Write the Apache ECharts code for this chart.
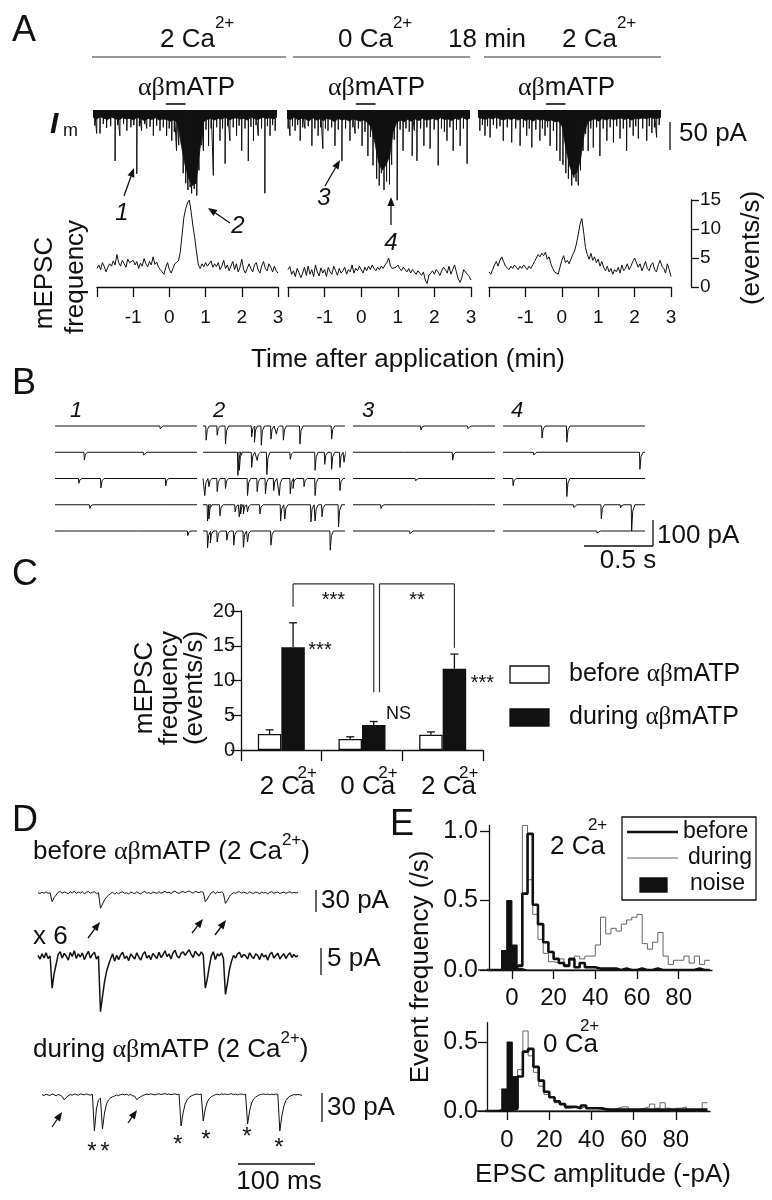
<!DOCTYPE html>
<html><head><meta charset="utf-8">
<script src="https://cdn.jsdelivr.net/npm/echarts@6/dist/echarts.min.js"></script>
<style>html,body{margin:0;padding:0;background:#fff}#c{width:772px;height:1200px}</style>
</head><body><div id="c"></div>
<script>
// ================= DATA =================
// Panel A: membrane current (Im) traces, time in min (-2..3), depth in pA
const envStepMin = 0.1;
const envelope1 = [10,13,9,12,14,10,12,15,11,13, 12,15,10,13,16,12,14,11,15,13, 14,17,15,20,60,95,120,132,128,70, 18,14,12,15,12,13,10,15,12,11, 13,12,15,10,13,14,10,12,11,13, 10];
const envelope2 = [12,14,10,15,12,13,17,11,15,13, 16,12,14,18,12,15,13,17,13,15, 17,15,19,28,55,90,105,96,80,36, 19,15,18,14,17,13,16,12,15,14, 12,15,11,14,13,16,12,14,10,14, 12];
const envelope3 = [10,12,14,11,13,10,13,15,12,14, 12,15,12,16,13,17,13,15,14,17, 15,18,17,26,65,96,114,108,86,40, 18,15,13,17,12,15,12,14,13,11, 14,12,15,12,13,11,13,10,12,12, 10];
const spikes1 = [[-1.95,25],[-1.90,39],[-1.81,39],[-1.72,22],[-1.63,29],[-1.52,26],[-1.40,88],[-1.33,24],[-1.27,43],[-1.17,22],[-1.08,34],[-0.97,28],[-0.89,24],[-0.81,111],[-0.74,26],[-0.68,34],[-0.60,22],[-0.54,30],[-0.45,27],[-0.36,43],[-0.27,25],[-0.18,34],[-0.09,28],[0.00,43],[0.07,30],[0.14,52],[0.21,36],[0.27,70],[0.33,60],[0.45,110],[0.52,128],[0.58,140],[0.64,135],[0.68,146],[0.75,138],[0.82,150],[0.88,105],[0.94,60],[1.00,70],[1.07,32],[1.14,61],[1.21,30],[1.27,114],[1.36,28],[1.45,52],[1.52,30],[1.59,93],[1.66,26],[1.72,52],[1.81,28],[1.90,43],[1.97,25],[2.04,70],[2.13,30],[2.22,88],[2.29,27],[2.36,52],[2.43,24],[2.49,43],[2.58,30],[2.67,146],[2.74,26],[2.81,43],[2.88,24],[2.95,34]];
const spikes2 = [[-1.97,30],[-1.92,43],[-1.85,26],[-1.78,34],[-1.71,24],[-1.64,52],[-1.57,28],[-1.51,30],[-1.42,26],[-1.32,61],[-1.24,30],[-1.15,43],[-1.08,28],[-1.02,66],[-0.95,30],[-0.88,34],[-0.78,28],[-0.69,61],[-0.60,32],[-0.50,88],[-0.40,30],[-0.28,52],[-0.20,28],[-0.14,39],[-0.05,30],[0.05,61],[0.13,36],[0.21,79],[0.28,45],[0.35,96],[0.45,120],[0.52,132],[0.58,110],[0.65,140],[0.72,125],[0.80,130],[0.86,95],[0.93,50],[1.01,159],[1.09,32],[1.17,70],[1.25,30],[1.34,36],[1.42,79],[1.48,34],[1.55,88],[1.65,30],[1.74,61],[1.82,28],[1.91,66],[2.02,32],[2.13,96],[2.22,30],[2.30,36],[2.37,52],[2.45,28],[2.54,70],[2.63,32],[2.73,61],[2.82,30],[2.92,93]];
const spikes3 = [[-1.95,34],[-1.88,24],[-1.81,43],[-1.74,26],[-1.67,46],[-1.58,24],[-1.49,30],[-1.40,26],[-1.31,52],[-1.20,28],[-1.08,55],[-0.97,30],[-0.85,61],[-0.76,28],[-0.67,43],[-0.60,30],[-0.53,64],[-0.42,32],[-0.31,52],[-0.24,30],[-0.17,43],[-0.10,28],[-0.03,61],[0.06,34],[0.15,70],[0.24,88],[0.32,95],[0.40,110],[0.47,120],[0.56,132],[0.62,118],[0.68,125],[0.74,132],[0.80,105],[0.87,70],[0.94,40],[1.01,70],[1.08,30],[1.15,64],[1.24,28],[1.33,79],[1.42,30],[1.52,52],[1.61,28],[1.70,55],[1.79,26],[1.88,48],[1.97,30],[2.06,70],[2.15,28],[2.24,43],[2.31,26],[2.38,48],[2.50,30],[2.61,52],[2.68,26],[2.75,38],[2.82,28],[2.88,46],[2.95,24]];

// Panel A: mEPSC frequency (events/s), sampled every 0.05 min from -2 to 3
const freqStepMin = 0.05;
const freq2CaFirst = [3.2,3.8,3.0,4.2,3.5,2.6,3.4,4.0,3.6,4.5, 3.8,5.6,4.2,3.6,4.6,4.0,3.4,4.8,4.2,3.9, 4.6,3.8,4.4,3.2,4.1,3.6,4.9,4.0,3.5,4.4, 3.8,5.2,3.9,4.3,3.4,3.0,2.6,2.2,3.4,4.2, 3.0,2.4,3.2,4.0,3.8,4.5,6.0,9.0,12.0,13.5, 14.5,15.0,13.0,10.5,8.5,6.0,3.8,3.2,4.0,3.5, 4.2,3.6,3.8,4.5,3.4,4.0,3.5,4.2,3.0,3.6, 4.6,3.2,3.8,2.8,3.6,4.4,3.0,4.0,2.6,3.4, 4.8,3.0,2.4,3.2,4.0,3.2,2.6,3.8,4.2,3.0, 2.4,3.6,4.4,3.2,2.8,4.0,3.4,2.6,3.6,2.8, 2.4];
const freq0Ca = [3.0,3.5,2.2,2.8,1.8,3.2,2.5,1.6,2.4,3.4, 2.0,3.6,2.2,3.0,1.8,3.8,2.6,1.9,3.3,2.4, 3.0,1.8,3.4,2.6,2.2,3.6,2.8,2.0,3.2,2.4, 2.8,3.4,2.2,3.0,2.6,3.8,2.4,3.2,2.8,3.6, 3.0,2.4,3.4,2.8,3.6,3.0,3.8,3.2,2.8,3.4, 3.0,3.6,3.2,3.8,4.2,5.0,3.6,3.2,3.0,3.4, 3.8,3.2,2.8,3.4,3.0,2.6,3.2,2.4,3.0,2.6, 2.2,2.8,2.4,2.0,2.6,1.2,0.6,2.0,2.4,2.8, 2.2,3.0,2.6,2.0,2.8,3.4,3.0,2.4,3.6,2.2, 3.0,3.8,2.6,1.4,0.8,1.6,3.0,3.2,2.2,1.8, 1.2];
const freq2CaSecond = [2.6,2.2,3.0,3.8,4.4,3.6,4.6,5.2,4.4,3.6, 3.4,3.0,3.6,3.2,3.8,3.4,3.0,3.6,3.2,3.8, 3.4,3.0,3.6,3.2,3.8,4.4,5.0,5.6,5.2,5.8, 5.4,6.0,4.8,5.2,4.0,3.2,2.6,2.4,2.2,3.4, 4.6,5.4,4.2,4.6,4.0,4.8,5.6,6.2,7.4,9.0, 10.8,11.8,9.5,6.8,5.6,4.8,5.8,4.6,5.2,4.2, 4.8,3.6,4.4,3.4,2.8,3.6,2.6,3.2,2.2,3.0, 2.6,3.4,2.4,3.8,2.8,3.2,4.0,3.0,3.6,4.4, 5.0,4.2,3.4,4.0,2.8,3.6,4.4,3.2,2.8,3.8, 4.2,3.0,2.6,3.8,4.6,3.6,3.2,2.4,4.0,3.0, 1.8];
const freqTickLabels = ['-1','0','1','2','3'];

// Panel B: sample sweeps (5 per epoch), events as [time s, amplitude pA]
const sweeps1 = [[[0.76,10]], [[0.21,30],[0.64,10]], [[0.17,18],[0.33,36],[0.80,28]], [[0.25,14],[0.78,6]], [[0.11,6],[0.59,6],[0.96,18]]];
const sweeps2 = [
 [[0.02,54],[0.10,35],[0.16,69],[0.35,42],[0.37,62],[0.42,73],[0.49,50],[0.53,31],[0.58,54],[0.70,69],[0.93,50]],
 [[0.25,88],[0.26,69],[0.35,58],[0.39,31],[0.46,85],[0.63,27],[0.81,69],[0.88,46],[0.93,65],[0.99,58],[1.02,38]],
 [[0.01,65],[0.04,31],[0.10,50],[0.16,38],[0.32,65],[0.39,50],[0.45,58],[0.51,46],[0.55,65],[0.63,58],[0.65,38],[0.73,31],[0.81,65],[0.99,46]],
 [[0.03,62],[0.04,54],[0.12,42],[0.23,27],[0.26,46],[0.27,35],[0.29,35],[0.32,27],[0.41,35],[0.56,62],[0.59,54],[0.78,65],[0.81,62],[0.86,46],[0.98,85]],
 [[0.03,65],[0.05,46],[0.10,42],[0.17,35],[0.22,54],[0.29,62],[0.32,42],[0.49,54],[0.92,73]]];
const sweeps3 = [[[0.49,15],[0.83,10]], [[0.34,6],[0.72,30]], [[0.45,8]], [[0.20,14],[0.85,5]], [[0.41,10]]];
const sweeps4 = [[[0.28,46],[0.46,62]], [[0.22,10],[0.99,65]], [[0.07,27],[0.46,69]], [[0.51,10],[0.71,54],[0.85,12],[0.93,100]], [[0.68,8]]];
const sweepLabels = ['1','2','3','4'];

// Panel C: mean mEPSC frequency (events/s)
const conditions = ['2 Ca', '0 Ca', '2 Ca'];
const beforeMean = [2.3, 1.6, 2.2];
const beforeErr = [0.6, 0.3, 0.4];
const duringMean = [14.8, 3.6, 11.7];
const duringErr = [3.5, 0.5, 2.1];

// Panel D: example traces, samples every 2.6 ms
const sampleMs = 2.6;
const traceBefore = [0.3,-0.4,0.6,-0.2,0.8,-0.3,0.2,-6.0,-3.2,-1.4, 0.5,1.0,-0.2,0.7,0.2,-0.6,0.9,0.1,1.2,-0.3, 0.6,0.0,0.8,-0.5,0.4,1.1,-0.2,0.5,0.9,-0.4, 0.2,-10.5,-7.6,-4.8,-2.8,-1.5,-0.4,0.6,-0.8,0.3, -0.5,0.4,0.9,-0.3,0.2,-0.7,0.6,0.1,-0.4,0.8, 0.0,-0.6,0.5,1.0,-0.2,0.3,-0.5,0.7,0.2,-0.3, 0.9,-0.1,0.4,1.2,0.1,0.6,-0.4,0.8,1.3,0.2, -0.2,0.7,1.0,0.3,0.9,1.4,0.5,-0.1,1.1,0.6, 0.2,1.0,0.4,-6.0,-4.2,-1.8,0.2,1.0,-0.5,0.6, 0.2,0.8,-0.3,-7.2,-5.0,-2.4,-0.8,0.3,-0.2,0.6, 0.9,-0.1,0.5,0.2,-0.4,0.8,0.1,-0.3,0.6,0.3, -0.5,0.7,0.0,0.4,-0.6,0.5,0.9,-0.2,0.3,0.7, -0.4,0.2,0.6,-0.3,0.4,0.8,-0.1,0.5,0.0,0.3];
const traceDuring = [0.5,-0.6,0.8,0.0,-0.4,1.0,0.3,-0.8,0.6,-0.2, -1.5,-4.8,-2.5,-0.8,0.4,-0.2,0.9,0.5,-0.3,1.1, 0.6,0.2,1.0,0.4,-0.2,0.7,-36.0,-14.0,-5.0,-3.0, -34.0,-18.0,-9.0,-5.0,-3.0,-1.8,-1.0,0.0,-0.5,0.4, 0.8,0.2,0.9,-0.3,0.5,-0.8,-1.2,-4.6,-3.0,-1.6, -0.6,0.3,0.9,0.4,1.2,0.6,0.1,0.8,1.3,0.5, 0.9,1.4,0.6,1.1,0.3,0.8,1.2,0.5,0.9,-31.0, -18.0,-9.0,-4.8,-2.4,-1.0,0.0,0.6,1.0,0.4,0.9, -26.0,-14.0,-7.0,-3.6,-1.8,-0.6,0.3,0.8,0.2,1.1, 0.6,1.0,0.4,0.8,1.3,0.5,0.9,0.2,0.7,1.0, 0.4,0.9,-29.0,-16.0,-8.0,-4.0,-2.0,-0.8,0.2,0.7, 1.0,0.5,0.9,0.3,0.8,0.4,1.1,0.6,-36.0,-21.0, -11.0,-5.6,-2.8,-1.2,-0.3,0.4,0.1,0.6,0.2,-0.4];

// Panel E: amplitude histograms (bins of 2.5 pA starting at -12.5), event frequency /s
const binStart = -12.5, binWidth = 2.5;
const hist2CaBefore = [0,0,0,0,0,0.01,0.03,0.55,0.98,0.47,0.33,0.2,0.13,0.08,0.05,0.03,0.08,0.02,0.05,0.02,0.02,0.01,0.01,0.01,0.01,0,0.01,0,0,0.01,0,0,0.01,0,0,0,0,0,0,0,0.01,0,0];
const hist2CaDuring = [0,0,0,0,0,0,0.04,1.04,0.65,0.4,0.22,0.12,0.06,0.05,0.08,0.04,0.07,0.1,0.08,0.1,0.1,0.18,0.38,0.26,0.3,0.28,0.33,0.36,0.38,0.4,0.19,0.15,0.2,0.27,0.1,0.04,0.07,0.07,0.1,0.05,0.1,0.04,0.07];
const hist2CaNoise = [0,0,0,0.14,0.5,0.18,0.01,0,0,0,0,0,0,0,0,0,0,0,0,0,0,0,0,0,0,0,0,0,0,0,0,0,0,0,0,0,0,0,0,0,0,0,0];
const hist0CaBefore = [0,0,0,0,0,0.01,0.02,0.25,0.43,0.45,0.32,0.22,0.14,0.1,0.07,0.05,0.03,0.03,0.02,0.04,0.02,0.02,0.02,0.01,0.01,0.01,0.01,0.01,0.01,0.01,0.01,0.01,0.01,0.01,0.01,0.01,0.01,0.01,0.01,0.01,0.01,0.01,0.01];
const hist0CaDuring = [0,0,0,0,0,0,0,0.3,0.58,0.4,0.28,0.18,0.12,0.1,0.06,0.05,0.02,0.03,0.02,0.03,0.02,0.02,0.01,0.02,0.01,0.02,0.03,0.03,0.01,0.01,0.02,0.03,0.05,0.02,0.06,0.02,0,0.02,0.03,0.01,0,0.01,0.06];
const hist0CaNoise = [0,0,0,0.01,0.16,0.5,0.25,0,0,0,0,0,0,0,0,0,0,0,0,0,0,0,0,0,0,0,0,0,0,0,0,0,0,0,0,0,0,0,0,0,0,0,0];
const ampTicks = [0, 20, 40, 60, 80];

// ================= BUILD =================
const INK = '#111';
const SANS = '"Liberation Sans", Arial, Helvetica, sans-serif';
const SERIF = '"Liberation Serif", "Times New Roman", serif';
const grids = [], xAxes = [], yAxes = [], series = [];
function addGrid(g, xa, ya) {
  grids.push(Object.assign({ outerBoundsMode: 'none', containLabel: false, show: false }, g));
  const gi = grids.length - 1;
  xAxes.push(Object.assign({ gridIndex: gi }, xa));
  yAxes.push(Object.assign({ gridIndex: gi }, ya));
  return gi;
}
const hid = (min, max) => ({ type: 'value', min, max, show: false, splitLine: { show: false } });
const axLine = { show: true, onZero: false, lineStyle: { color: INK, width: 1.3 } };
const lineS = (gi, data, extra) => Object.assign({ type: 'line', xAxisIndex: gi, yAxisIndex: gi, data, symbol: 'none', silent: true, animation: false, lineStyle: { width: 1, color: INK } }, extra || {});

// --- A traces
const traceGeo = [{ left: 93, width: 184 }, { left: 287, width: 183 }, { left: 478, width: 183 }];
[[envelope1, spikes1], [envelope2, spikes2], [envelope3, spikes3]].forEach(([env, sp], i) => {
  const gi = addGrid({ left: traceGeo[i].left, width: traceGeo[i].width, top: 110, height: 90 }, hid(-2, 3), hid(-158, 3));
  series.push(lineS(gi, env.map((v, k) => [-2 + k * envStepMin, -v]), { lineStyle: { width: 0.8, color: INK }, areaStyle: { color: INK, opacity: 1, origin: 'end' } }));
  const d = [];
  sp.forEach(([t, a]) => { d.push([t, -4], [t, -a], [t + 0.006, -4]); });
  series.push(lineS(gi, d, { lineStyle: { width: 1, color: INK } }));
});

// --- A frequency plots
const freqGeo = [{ left: 97, width: 181 }, { left: 288, width: 183 }, { left: 489, width: 182 }];
[freq2CaFirst, freq0Ca, freq2CaSecond].forEach((arr, i) => {
  const xa = { type: 'value', min: -2, max: 3, interval: 1, axisLine: axLine,
    axisTick: { show: true, inside: false, length: 10, lineStyle: { color: INK, width: 1.3 } },
    axisLabel: { show: true, color: INK, fontSize: 19, fontFamily: SANS, margin: 21,
      formatter: v => (freqTickLabels.indexOf(String(v)) >= 0 ? String(v) : '') },
    splitLine: { show: false } };
  const ya = i === 2 ? { type: 'value', min: 0, max: 15, interval: 5, position: 'right', offset: 20, axisLine: axLine,
      axisTick: { show: true, length: 8, lineStyle: { color: INK, width: 1.3 } },
      axisLabel: { color: INK, fontSize: 19, fontFamily: SANS, margin: 9 }, splitLine: { show: false } }
    : hid(0, 15);
  const gi = addGrid({ left: freqGeo[i].left, width: freqGeo[i].width, top: 200, height: 87 }, xa, ya);
  series.push(lineS(gi, arr.map((v, k) => [-2 + k * freqStepMin, v])));
});

// --- B sweeps
const sweepGeoLeft = [55, 203, 353, 503];
const rowOffsets = [0, -100, -200, -300, -400];
[sweeps1, sweeps2, sweeps3, sweeps4].forEach((rows, g) => {
  const gi = addGrid({ left: sweepGeoLeft[g], width: 142, top: 415.5, height: 141.75 }, hid(0, 1.03), hid(-500, 40));
  rows.forEach((sp, r) => {
    const off = rowOffsets[r];
    const d = [[0, off]];
    sp.slice().sort((a, b) => a[0] - b[0]).forEach(([t, a]) => {
      d.push([t, off], [t + 0.003, off - a], [t + 0.011, off - a * 0.25], [t + 0.026, off]);
    });
    d.push([1.03, off]);
    series.push(lineS(gi, d));
  });
});

// --- C bars
const gC = addGrid({ left: 241, top: 611, width: 242, height: 139 },
  { type: 'category', data: conditions, axisLine: axLine,
    axisTick: { show: true, length: 11, alignWithLabel: false, lineStyle: { color: INK, width: 1.3 } },
    axisLabel: { show: false }, splitLine: { show: false } },
  { type: 'value', min: 0, max: 20, interval: 5, axisLine: axLine,
    axisTick: { show: true, length: 10, lineStyle: { color: INK, width: 1.3 } },
    axisLabel: { color: INK, fontSize: 20, fontFamily: SANS, margin: 6 }, splitLine: { show: false } });
series.push({ type: 'bar', xAxisIndex: gC, yAxisIndex: gC, data: beforeMean, barWidth: 23.5, barGap: '0%', silent: true,
  itemStyle: { color: '#fff', borderColor: INK, borderWidth: 1.3 } });
series.push({ type: 'bar', xAxisIndex: gC, yAxisIndex: gC, data: duringMean, barWidth: 23.5, barGap: '0%', silent: true,
  itemStyle: { color: INK } });
const errData = conditions.map((c, i) => [i, beforeMean[i], beforeMean[i] + beforeErr[i], -1])
  .concat(conditions.map((c, i) => [i, duringMean[i], duringMean[i] + duringErr[i], 1]));
series.push({ type: 'custom', xAxisIndex: gC, yAxisIndex: gC, data: errData, silent: true, z: 5,
  renderItem: (params, api) => {
    const b = api.coord([api.value(0), api.value(1)]);
    const t = api.coord([api.value(0), api.value(2)]);
    const x = b[0] + api.value(3) * 11.75;
    return { type: 'group', children: [
      { type: 'line', shape: { x1: x, y1: b[1], x2: x, y2: t[1] }, style: { stroke: INK, lineWidth: 1.3 } },
      { type: 'line', shape: { x1: x - 4, y1: t[1], x2: x + 4, y2: t[1] }, style: { stroke: INK, lineWidth: 1.3 } }] };
  } });

// --- D traces
const dGeo = [
  { left: 38, top: 888.65, height: 24.65, ymin: -14, ymax: 3, data: traceBefore, w: 1 },
  { left: 38, top: 946.6, height: 67.6, ymin: -11, ymax: 2, data: traceBefore, w: 1.5 },
  { left: 42, top: 1090, height: 45, ymin: -40, ymax: 5, data: traceDuring, w: 1 }];
dGeo.forEach(g => {
  const gi = addGrid({ left: g.left, top: g.top, width: 260, height: g.height }, hid(0, 129 * sampleMs), hid(g.ymin, g.ymax));
  series.push(lineS(gi, g.data.map((v, k) => [k * sampleMs, v]), { lineStyle: { width: g.w, color: INK } }));
});

// --- E histograms
function stepData(vals) {
  const d = vals.map((v, i) => [binStart + i * binWidth, v]);
  d.push([binStart + vals.length * binWidth, vals[vals.length - 1]]);
  return d;
}
function histAxes(xmin, xmax, ymax, yTicks, lblMarginX, lblMarginY) {
  return [
    { type: 'value', min: xmin, max: xmax, axisLine: axLine,
      axisTick: { show: true, length: 9, customValues: ampTicks, lineStyle: { color: INK, width: 1.3 } },
      axisLabel: { color: INK, fontSize: 24, fontFamily: SANS, margin: lblMarginX, customValues: ampTicks,
        formatter: v => (ampTicks.indexOf(v) >= 0 ? String(v) : '') },
      splitLine: { show: false } },
    { type: 'value', min: 0, max: ymax, interval: 0.5, axisLine: axLine,
      axisTick: { show: true, length: 9, customValues: yTicks, lineStyle: { color: INK, width: 1.3 } },
      axisLabel: { color: INK, fontSize: 25, fontFamily: SANS, margin: lblMarginY, customValues: yTicks,
        formatter: v => (yTicks.indexOf(v) >= 0 ? v.toFixed(1) : '') },
      splitLine: { show: false } }];
}
const eTop = histAxes(-11, 96, 1.04, [0, 0.5, 1], 16, 11);
const gE1 = addGrid({ left: 489, top: 825.5, width: 223, height: 144.5 }, eTop[0], eTop[1]);
const eBot = histAxes(-9.5, 96.2, 0.64, [0, 0.5], 17, 9);
const gE2 = addGrid({ left: 487, top: 1022.7, width: 223, height: 88.3 }, eBot[0], eBot[1]);
[[gE1, hist2CaNoise, hist2CaDuring, hist2CaBefore], [gE2, hist0CaNoise, hist0CaDuring, hist0CaBefore]].forEach(([gi, nz, du, be]) => {
  series.push(lineS(gi, stepData(nz), { step: 'end', lineStyle: { width: 1, color: INK }, areaStyle: { color: INK, opacity: 1, origin: 'start' } }));
  series.push(lineS(gi, stepData(du), { step: 'end', lineStyle: { width: 1, color: '#666' } }));
  series.push(lineS(gi, stepData(be), { step: 'end', lineStyle: { width: 2.6, color: INK } }));
});

const chart = echarts.init(document.getElementById('c'), null, { renderer: 'canvas', width: 772, height: 1200 });
chart.setOption({ animation: false, backgroundColor: '#fff', grid: grids, xAxis: xAxes, yAxis: yAxes, series });

// ================= ANNOTATIONS =================
const gfx = [];
const mctx = document.createElement('canvas').getContext('2d');
function fontStr(size, o) { return (o.italic ? 'italic ' : '') + (o.bold ? 'bold ' : '') + size + 'px ' + (o.family || SANS); }
function tw(text, font) { mctx.font = font; return mctx.measureText(text).width; }
function T(text, x, y, size, o) {
  o = o || {}; const al = o.align || 'left';
  gfx.push({ type: 'text', x, y, rotation: o.rot || 0, silent: true, z: 100,
    style: { text, x: 0, y: 0, font: fontStr(size, o), fill: o.color || INK, align: al, textAlign: al, verticalAlign: 'middle', textVerticalAlign: 'middle' } });
}
function TP(parts, x, y, o) {
  o = o || {};
  const ws = parts.map(p => tw(p.t, fontStr(p.size, p)));
  let total = 0; parts.forEach((p, i) => { total += ws[i] + (p.dx || 0); });
  let cx = o.align === 'center' ? x - total / 2 : x;
  const pos = [];
  parts.forEach((p, i) => { cx += (p.dx || 0); T(p.t, cx, y + (p.dy || 0), p.size, p); pos.push([cx, ws[i]]); cx += ws[i]; });
  return pos;
}
function L(x1, y1, x2, y2, w, color) { gfx.push({ type: 'line', silent: true, z: 100, shape: { x1, y1, x2, y2 }, style: { stroke: color || INK, lineWidth: w || 1.3 } }); }
function R(x, y, w, h, fill, stroke) { gfx.push({ type: 'rect', silent: true, z: 100, shape: { x, y, width: w, height: h }, style: { fill: fill || 'none', stroke: stroke || null, lineWidth: 1.3 } }); }
function arrow(x1, y1, x2, y2) {
  const dx = x2 - x1, dy = y2 - y1, len = Math.hypot(dx, dy), ux = dx / len, uy = dy / len, hl = 9, hw = 3.6;
  const bx = x2 - ux * hl, by = y2 - uy * hl;
  L(x1, y1, bx, by, 1.3);
  gfx.push({ type: 'polygon', silent: true, z: 100, shape: { points: [[x2, y2], [bx - uy * hw, by + ux * hw], [bx + uy * hw, by - ux * hw]] }, style: { fill: INK } });
}
function abm(x, y, size) {
  const pos = TP([{ t: 'αβ', size, family: SERIF }, { t: 'm', size }, { t: 'ATP', size }], x, y);
  L(pos[1][0] + 1, y + 16, pos[1][0] + pos[1][1] - 1, y + 16, 1.6);
}
const ROT = Math.PI / 2;

// Panel A
T('A', 12, 31, 36);
TP([{ t: '2 Ca', size: 26 }, { t: '2+', size: 17, dy: -17 }], 160, 40);
TP([{ t: '0 Ca', size: 26 }, { t: '2+', size: 17, dy: -17 }], 338, 40);
T('18 min', 448, 40, 26);
TP([{ t: '2 Ca', size: 26 }, { t: '2+', size: 17, dy: -17 }], 562, 40);
L(92, 57, 286, 57, 1.2, '#333'); L(293, 57, 470, 57, 1.2, '#333'); L(484, 57, 661, 57, 1.2, '#333');
abm(138, 88, 26); abm(328, 88, 26); abm(518, 88, 26);
T('I', 50, 125, 30, { italic: true, bold: true }); T('m', 63, 131, 18);
L(670, 122, 670, 150, 1.3); T('50 pA', 679, 134, 26);
arrow(124, 196, 134, 168); T('1', 122, 213, 24, { italic: true, align: 'center' });
arrow(230, 223, 208, 208); T('2', 238, 226, 24, { italic: true, align: 'center' });
arrow(325, 186, 340, 160); T('3', 324, 198, 24, { italic: true, align: 'center' });
arrow(391, 225, 391, 197); T('4', 391, 243, 24, { italic: true, align: 'center' });
T('mEPSC', 45, 283, 26, { rot: ROT, align: 'center' });
T('frequency', 76, 277, 26, { rot: ROT, align: 'center' });
T('(events/s)', 752, 248, 26, { rot: ROT, align: 'center' });
T('Time after application (min)', 408, 360, 26, { align: 'center' });

// Panel B
T('B', 12, 384, 36);
const sweepLabelX = [76, 219, 368, 517];
sweepLabels.forEach((s, i) => T(s, sweepLabelX[i], 411, 22, { italic: true, align: 'center' }));
L(653, 520, 653, 546); L(584, 546, 653, 546);
T('100 pA', 657, 536, 26); T('0.5 s', 628, 561, 26, { align: 'center' });

// Panel C
T('C', 12, 575, 36);
T('mEPSC', 145, 688, 26, { rot: ROT, align: 'center' });
T('frequency', 170, 688, 26, { rot: ROT, align: 'center' });
T('(events/s)', 195, 688, 26, { rot: ROT, align: 'center' });
const px = (c, v) => chart.convertToPixel({ xAxisIndex: gC, yAxisIndex: gC }, [c, v]);
conditions.forEach((c, i) => {
  const p = px(i, 0);
  TP([{ t: c, size: 26 }, { t: '2+', size: 17, dy: -14, dx: -17 }], p[0] + 7, 787, { align: 'center' });
});
// significance brackets
const bTop = px(0, 23.9)[1];
const b1L = px(0, 20.6), b1R = px(1, 8.3), b2R = px(2, 14.7);
const x1L = b1L[0] + 11.75, x1R = b1R[0] + 11.75, x2L = b1R[0] + 17.5, x2R = b2R[0] + 11.75;
L(x1L, bTop, x1R, bTop, 1.2, '#333'); L(x1L, bTop, x1L, b1L[1], 1.2, '#333'); L(x1R, bTop, x1R, b1R[1], 1.2, '#333');
L(x2L, bTop, x2R, bTop, 1.2, '#333'); L(x2L, bTop, x2L, b1R[1], 1.2, '#333'); L(x2R, bTop, x2R, b2R[1], 1.2, '#333');
T('***', (x1L + x1R) / 2, bTop + 17, 20, { align: 'center' });
T('**', (x2L + x2R) / 2, bTop + 17, 20, { align: 'center' });
const s1 = px(0, duringMean[0]), s2 = px(1, duringMean[1]), s3 = px(2, duringMean[2]);
T('***', s1[0] + 27, 650, 20); T('NS', s2[0] + 24, 714, 18); T('***', s3[0] + 28, 683, 20);
R(510, 666, 39, 17, '#fff', INK);
TP([{ t: 'before ', size: 25 }, { t: 'αβ', size: 25, family: SERIF }, { t: 'mATP', size: 25 }], 569, 674);
R(510, 709, 39, 17, INK, INK);
TP([{ t: 'during ', size: 25 }, { t: 'αβ', size: 25, family: SERIF }, { t: 'mATP', size: 25 }], 569, 717);

// Panel D
T('D', 12, 821, 36);
TP([{ t: 'before ', size: 26 }, { t: 'αβ', size: 26, family: SERIF }, { t: 'mATP (2 Ca', size: 26 }, { t: '2+', size: 17, dy: -12 }, { t: ')', size: 26 }], 33, 852);
L(316, 890, 316, 912); T('30 pA', 321, 901, 26);
arrow(88, 938, 100, 922); arrow(192, 933, 203, 919); arrow(215, 935, 226, 920);
T('x 6', 33, 937, 26);
L(321, 948, 321, 975); T('5 pA', 327, 959, 26);
TP([{ t: 'during ', size: 26 }, { t: 'αβ', size: 26, family: SERIF }, { t: 'mATP (2 Ca', size: 26 }, { t: '2+', size: 17, dy: -12 }, { t: ')', size: 26 }], 33, 1050);
L(322, 1093, 322, 1122); T('30 pA', 327, 1108, 26);
arrow(52, 1127, 62, 1112); arrow(128, 1123, 137, 1110);
[[92, 1147], [105, 1147], [178, 1140], [206, 1135], [247, 1132], [279, 1143]].forEach(([x, y]) => T('*', x, y + 5, 24, { align: 'center' }));
L(238, 1164, 315, 1164); T('100 ms', 279, 1182, 26, { align: 'center' });

// Panel E
T('E', 390, 825, 36);
L(478, 970, 489, 970, 1.3); L(476, 1111, 487, 1111, 1.3);
T('Event frequency (/s)', 421, 967, 26, { rot: ROT, align: 'center' });
TP([{ t: '2 Ca', size: 26 }, { t: '2+', size: 17, dy: -22, dx: -17 }], 550, 847);
TP([{ t: '0 Ca', size: 26 }, { t: '2+', size: 17, dy: -19, dx: -18 }], 543, 1045);
R(622, 817, 134, 83, '#fff', INK);
L(627, 832, 678, 832, 2.6); T('before', 683, 832, 23);
L(627, 858, 678, 858, 1, '#666'); T('during', 688, 858, 23);
R(640, 878, 27, 14, INK, INK); T('noise', 690, 884, 23);
T('EPSC amplitude (-pA)', 603, 1175, 26, { align: 'center' });

chart.setOption({ graphic: { elements: gfx } });
</script></body></html>
